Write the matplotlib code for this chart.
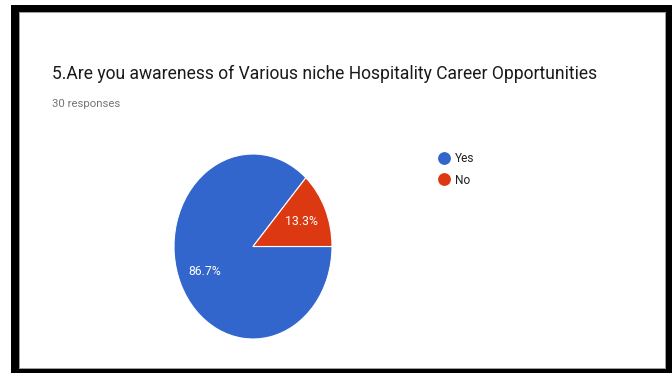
import matplotlib
matplotlib.use("Agg")
import matplotlib.pyplot as plt
from matplotlib.patches import Rectangle
from matplotlib.lines import Line2D

# Survey answers
categories = ["Yes", "No"]
counts = [26, 4]
colors = ["#3366CC", "#DC3912"]
title = "5.Are you awareness of Various niche Hospitality Career Opportunities"
subtitle = "30 responses"

W, H = 672, 373
fig = plt.figure(figsize=(W / 100, H / 100), dpi=100)
fig.patch.set_facecolor("white")


def fx(px):
    return px / W


def fy(py):
    return 1 - py / H


def band(x0, y0, x1, y1, color):
    fig.add_artist(Rectangle((fx(x0), fy(y1)), fx(x1) - fx(x0), fy(y0) - fy(y1),
                             transform=fig.transFigure, facecolor=color,
                             edgecolor="none", zorder=10))


# Thick frame around the card
band(11, 5, 672, 12, "black")
band(11, 5, 19, 373, "black")
band(666, 5, 672, 373, "black")
band(11, 369, 672, 373, "black")
# thin grey inner edge
band(19, 12, 666, 13, "#9e9e9e")
band(19, 12, 20, 369, "#9e9e9e")
band(665, 12, 666, 369, "#9e9e9e")
band(19, 368, 666, 369, "#9e9e9e")

fig.text(fx(52), fy(79), title, fontsize=12.65, family="Roboto",
         color="#1a1a1a", va="baseline", ha="left")
fig.text(fx(52), fy(106.5), subtitle, fontsize=8.2, family="Roboto",
         color="#757575", va="baseline", ha="left")

# Pie chart
ax = fig.add_axes([fx(174), fy(339), fx(332) - fx(174), fy(154) - fy(339)])
wedges, texts, autotexts = ax.pie(
    counts, colors=colors, startangle=48, counterclock=True,
    autopct="%1.1f%%", pctdistance=0.67,
    wedgeprops=dict(edgecolor="white", linewidth=0.8),
    textprops=dict(color="white", fontsize=8.8, family="Roboto"),
)
ax.set_aspect("auto")
ax.set_xlim(-1, 1)
ax.set_ylim(-1, 1)
ax.axis("off")

handles = [Line2D([], [], marker="o", linestyle="none", markersize=8.2,
                  markerfacecolor=c, markeredgecolor=c) for c in colors]
fig.legend(handles, categories, loc="upper left",
           bbox_to_anchor=(fx(439), fy(152)), frameon=False,
           prop=dict(family="Roboto", size=8.6), labelcolor="#212121",
           handlelength=0.9, handletextpad=0.45, labelspacing=0.72,
           borderaxespad=0, borderpad=0)

fig.savefig("out.png", dpi=100, facecolor="white")
